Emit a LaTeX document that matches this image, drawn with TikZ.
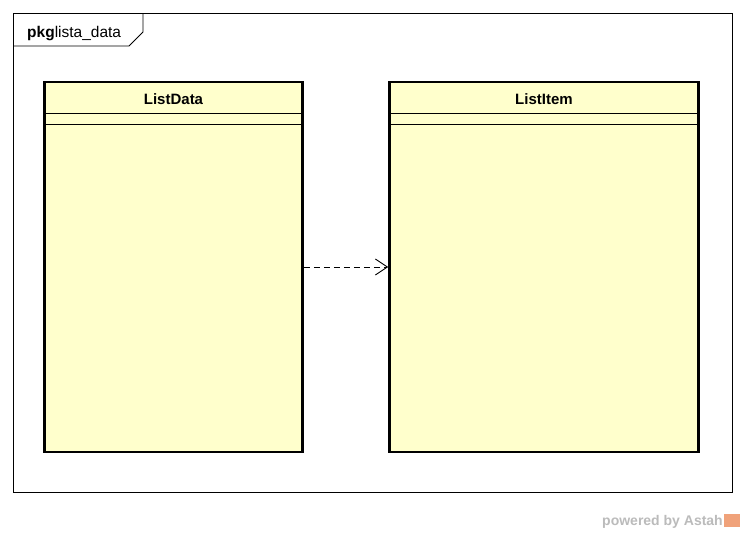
\documentclass[tikz,border=0pt]{standalone}
\usepackage{fontspec}
\setmainfont{Liberation Sans}
\usetikzlibrary{arrows.meta}

\definecolor{classfill}{HTML}{FFFFCC}
\definecolor{astahgray}{HTML}{BBBBBB}
\definecolor{astahorange}{HTML}{F0A27A}

\tikzset{
	classbox/.style={shape=rectangle, draw=black, line width=2.6pt, fill=classfill,
		minimum height=370pt, inner sep=0pt},
	classname/.style={font=\fontsize{15}{18}\selectfont\bfseries},
	compline/.style={line width=1pt},
	dep/.style={dash pattern=on 6pt off 4pt, line width=0.9pt,
		-{Straight Barb[length=12pt,width=16pt,line width=0.9pt]}}
}

\begin{document}
\begin{tikzpicture}[x=1pt,y=-1pt]
	\useasboundingbox[fill=white] (0,0) rectangle (745,533);

	% package frame
	\draw[line width=0.9pt] (13.5,13.5) rectangle (732.5,492.5);
	\draw[line width=0.9pt] (13.5,46) -- (129,46) -- (143,32) -- (143,13.5);
	\node[anchor=base west, inner sep=0pt, font=\fontsize{15.5}{18}\selectfont] (pkg) at (27,37) {\textbf{pkg}lista\_data};

	% classes
	\node[classbox, minimum width=258pt] (ListData) at (173.5,267) {};
	\node[classbox, minimum width=309pt] (ListItem) at (544,267) {};

	\node[classname] (ListDataName) at (173.5,99) {ListData};
	\node[classname] (ListItemName) at (544,99) {ListItem};

	\draw[compline] ([yshift=-32.5pt]ListData.north west) -- ([yshift=-32.5pt]ListData.north east);
	\draw[compline] ([yshift=-43.5pt]ListData.north west) -- ([yshift=-43.5pt]ListData.north east);
	\draw[compline] ([yshift=-32.5pt]ListItem.north west) -- ([yshift=-32.5pt]ListItem.north east);
	\draw[compline] ([yshift=-43.5pt]ListItem.north west) -- ([yshift=-43.5pt]ListItem.north east);

	% dependency
	\path[dep] (ListData.east) edge (ListItem.west);

	% watermark
	\node[anchor=base east, inner sep=0pt, text=astahgray, font=\fontsize{14}{16}\selectfont\bfseries] (powered) at (723,525) {powered by Astah};
	\fill[astahorange] (724,513.5) rectangle (740,527);
\end{tikzpicture}
\end{document}
